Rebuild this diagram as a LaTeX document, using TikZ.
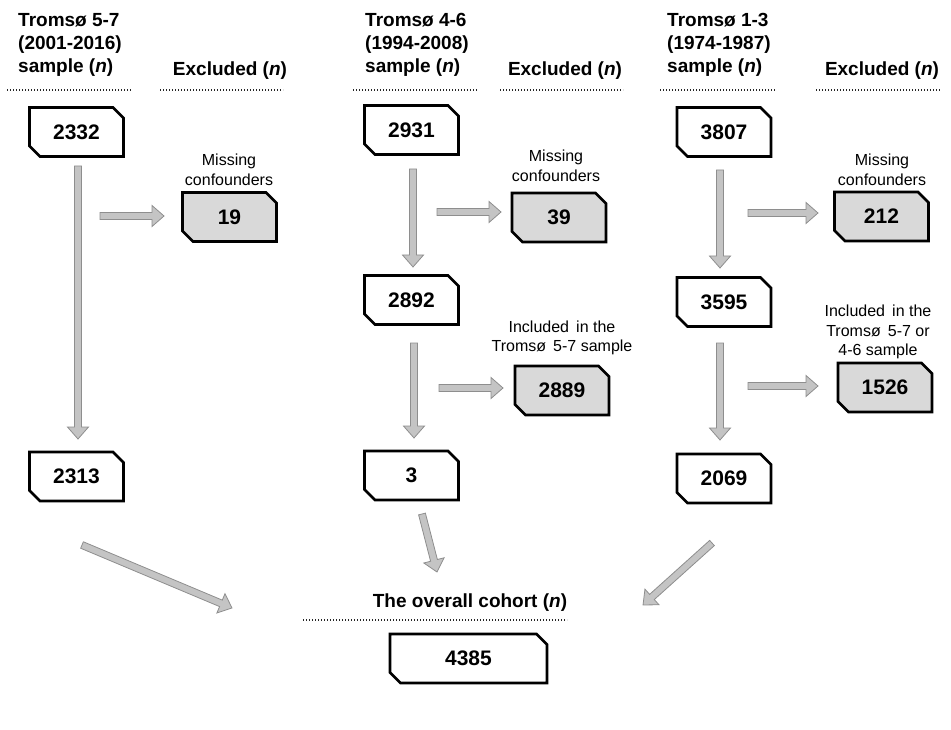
\documentclass[tikz,border=0pt]{standalone}
\usepackage{fontspec}
\setmainfont{Liberation Sans}
\usetikzlibrary{shapes.misc,calc}
\definecolor{exfill}{HTML}{D9D9D9}
\definecolor{arfill}{HTML}{C4C4C4}
\definecolor{ardraw}{HTML}{8E8E8E}
\tikzset{
  mainbox/.style={chamfered rectangle, chamfered rectangle corners={north east,south west},
    chamfered rectangle xsep=7pt, draw=black, line width=2.6pt, fill=white,
    minimum width=94pt, minimum height=49pt, inner sep=0pt,
    font=\fontsize{21}{25}\selectfont\bfseries},
  exbox/.style={mainbox, fill=exfill},
  hdr/.style={font=\fontsize{19}{23}\selectfont\bfseries, align=left, inner sep=0pt, anchor=north west},
  exhdr/.style={font=\fontsize{19}{23}\selectfont\bfseries, inner sep=0pt},
  lbl/.style={font=\fontsize{16}{19.5}\selectfont, align=center, inner sep=0pt},
  dotline/.style={black!85, line width=1.4pt, dash pattern=on 1.1pt off 1.9pt},
  arrowsty/.style={fill=arfill, draw=ardraw, line width=0.8pt, line join=miter}
}
\newcommand\myblockarrow[2]{%
  \path let \p1=(#1), \p2=(#2), \n1={atan2(\y2-\y1,\x2-\x1)}, \n2={veclen(\x2-\x1,\y2-\y1)}
    in \pgfextra{\xdef\arang{\n1}\xdef\arlen{\n2}};
  \begin{scope}[shift={(#1)}, rotate=\arang]
    \filldraw[arrowsty] (0pt,-3.5pt) -- (\arlen-12pt,-3.5pt) -- (\arlen-12pt,-10.5pt)
      -- (\arlen,0pt) -- (\arlen-12pt,10.5pt) -- (\arlen-12pt,3.5pt) -- (0pt,3.5pt) -- cycle;
  \end{scope}}
\begin{document}
\begin{tikzpicture}[x=1pt,y=-1pt]
\useasboundingbox (0,0) rectangle (951,730);

% headers
\node[hdr] (h1) at (18,13) {Tromsø 5-7\\(2001-2016)\\sample (\textit{n})};
\node[hdr] (h2) at (365,13) {Tromsø 4-6\\(1994-2008)\\sample (\textit{n})};
\node[hdr] (h3) at (667,13) {Tromsø 1-3\\(1974-1987)\\sample (\textit{n})};
\node[exhdr] (e1) at (230,71) {Excluded (\textit{n})};
\node[exhdr] (e2) at (565,71) {Excluded (\textit{n})};
\node[exhdr] (e3) at (882,71) {Excluded (\textit{n})};

\draw[dotline] (7,90) -- (132,90);
\draw[dotline] (160,90) -- (283,90);
\draw[dotline] (353,90) -- (477,90);
\draw[dotline] (500,90) -- (623,90);
\draw[dotline] (660,90) -- (775,90);
\draw[dotline] (816,90) -- (940,90);

% boxes
\node[mainbox] (b2332) at (76.5,132) {2332};
\node[exbox] (b19) at (229.5,217) {19};
\node[mainbox] (b2313) at (76.5,476.5) {2313};
\node[mainbox] (b2931) at (411.5,130) {2931};
\node[exbox] (b39) at (559,217.5) {39};
\node[mainbox] (b2892) at (411.5,300) {2892};
\node[exbox] (b2889) at (562,390.5) {2889};
\node[mainbox] (b3) at (411.5,475.5) {3};
\node[mainbox] (b3807) at (724,132) {3807};
\node[exbox] (b212) at (881.5,216.5) {212};
\node[mainbox] (b3595) at (724,302) {3595};
\node[exbox] (b1526) at (885,387.5) {1526};
\node[mainbox] (b2069) at (724,478.5) {2069};
\node[mainbox, minimum width=157pt] (b4385) at (468.5,658.5) {4385};

% labels
\node[lbl] (m1) at (229,170) {Missing\\confounders};
\node[lbl] (m2) at (556,166) {Missing\\confounders};
\node[lbl] (m3) at (882,170) {Missing\\confounders};
\node[lbl] (i2) at (562,338) {Included\ \,in the\\Tromsø\ \,5-7 sample};
\node[lbl] (i3) at (878,332) {Included\ \,in the\\Tromsø\ \,5-7 or\\4-6 sample};

\node[exhdr] (coh) at (470,603) {The overall cohort (\textit{n})};
\draw[dotline] (303,620) -- (567,620);

% arrow end points
\coordinate (a1s) at (78,166);   \coordinate (a1e) at (78,439);
\coordinate (a2s) at (100,216);  \coordinate (a2e) at (164,216);
\coordinate (a3s) at (413,169);  \coordinate (a3e) at (413,267);
\coordinate (a4s) at (437,212);  \coordinate (a4e) at (501,212);
\coordinate (a5s) at (414,343);  \coordinate (a5e) at (414,438);
\coordinate (a6s) at (439,388);  \coordinate (a6e) at (503,388);
\coordinate (a7s) at (720,170);  \coordinate (a7e) at (720,268);
\coordinate (a8s) at (748,213);  \coordinate (a8e) at (818,213);
\coordinate (a9s) at (720,343);  \coordinate (a9e) at (720,440);
\coordinate (a10s) at (748,386); \coordinate (a10e) at (818,386);
\coordinate (d1s) at (82,545);   \coordinate (d1e) at (232,608);
\coordinate (d2s) at (422,514);  \coordinate (d2e) at (437,572);
\coordinate (d3s) at (712,543);  \coordinate (d3e) at (643,605);

\myblockarrow{a1s}{a1e}
\myblockarrow{a2s}{a2e}
\myblockarrow{a3s}{a3e}
\myblockarrow{a4s}{a4e}
\myblockarrow{a5s}{a5e}
\myblockarrow{a6s}{a6e}
\myblockarrow{a7s}{a7e}
\myblockarrow{a8s}{a8e}
\myblockarrow{a9s}{a9e}
\myblockarrow{a10s}{a10e}
\myblockarrow{d1s}{d1e}
\myblockarrow{d2s}{d2e}
\myblockarrow{d3s}{d3e}
\end{tikzpicture}
\end{document}
